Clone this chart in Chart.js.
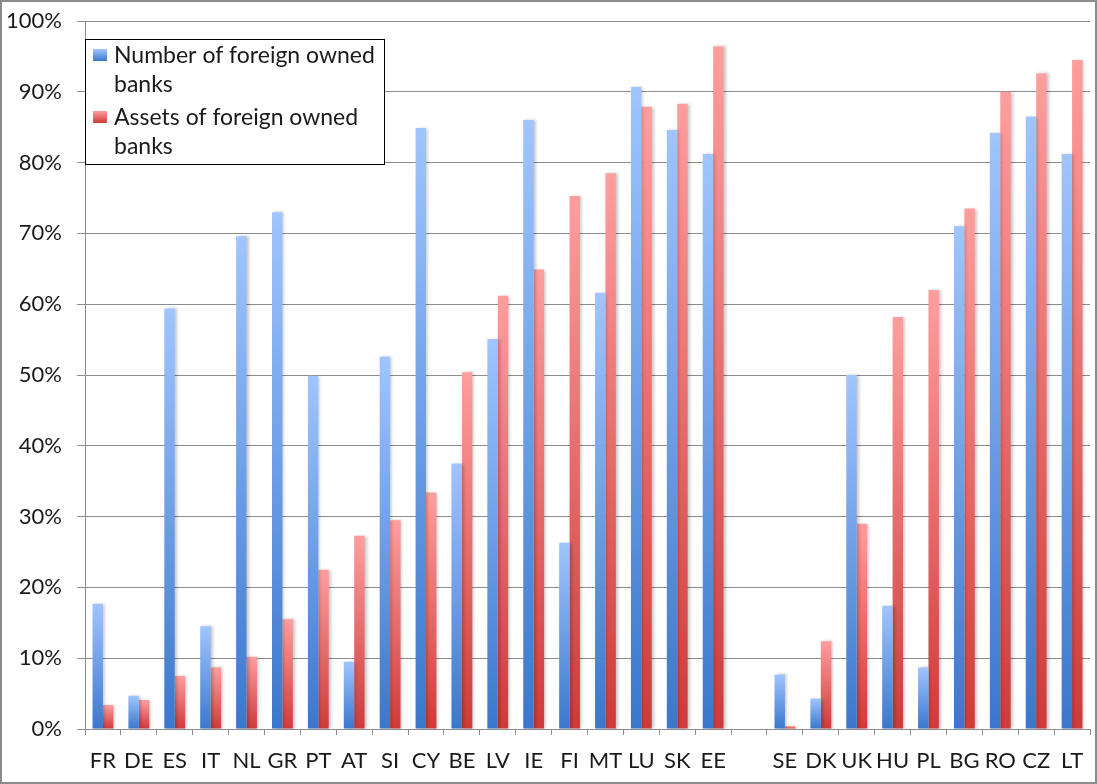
<!DOCTYPE html>
<html>
<head>
<meta charset="utf-8">
<script src="https://cdn.jsdelivr.net/npm/chart.js@4/dist/chart.umd.min.js"></script>
<style>
  body { margin: 0; background: #fff; }
  #wrap { position: relative; width: 1097px; height: 784px; }
  #frame { position: absolute; left: 0; top: 0; width: 1097px; height: 784px; box-sizing: border-box; border: 2px solid #8c8c8c; pointer-events: none; }
</style>
</head>
<body>
<div id="wrap">
  <canvas id="graficoBancos"></canvas>
  <div id="frame"></div>
</div>
<script>
// data (percent)
const paises = ["FR", "DE", "ES", "IT", "NL", "GR", "PT", "AT", "SI", "CY", "BE", "LV", "IE", "FI", "MT", "LU", "SK", "EE", "",
  "SE", "DK", "UK", "HU", "PL", "BG", "RO", "CZ", "LT"];
const numeroBancos = [17.7, 4.7, 59.4, 14.5, 69.6, 73.0, 49.9, 9.5, 52.6, 84.9, 37.5, 55.1, 86.0, 26.3, 61.6, 90.7, 84.6, 81.2, null,
  7.7, 4.3, 50.0, 17.4, 8.7, 71.0, 84.2, 86.5, 81.2];
const ativosBancos = [3.4, 4.1, 7.5, 8.7, 10.2, 15.5, 22.5, 27.3, 29.5, 33.4, 50.4, 61.2, 64.9, 75.3, 78.5, 87.9, 88.3, 96.4, null,
  0.4, 12.4, 29.0, 58.2, 62.0, 73.5, 90.0, 92.6, 94.5];
const rotulosY = ["0%", "10%", "20%", "30%", "40%", "50%", "60%", "70%", "80%", "90%", "100%"];

const fonte = "Lato, 'Liberation Sans', sans-serif";
const azul = { topo: "#a0c5ff", base: "#3a77cc" };
const vermelho = { topo: "#ff9e9e", base: "#cf3a3a" };

function gradienteBarra(cor) {
  return c => {
    const chart = c.chart;
    if (!chart.chartArea || c.raw == null) return cor.base;
    const y = chart.scales.y;
    const y0 = y.getPixelForValue(0);
    const y1 = y.getPixelForValue(c.raw);
    if (y0 - y1 < 1) return cor.topo;
    const g = chart.ctx.createLinearGradient(0, y1, 0, y0);
    g.addColorStop(0, cor.topo);
    g.addColorStop(1, cor.base);
    return g;
  };
}

// sombra leve nas barras
const sombra = {
  id: "sombra",
  beforeDatasetsDraw(chart) {
    const ctx = chart.ctx;
    ctx.save();
    ctx.shadowColor = "rgba(0,0,0,0.22)";
    ctx.shadowBlur = 3;
    ctx.shadowOffsetX = 2;
    ctx.shadowOffsetY = 0;
  },
  afterDatasetsDraw(chart) {
    chart.ctx.restore();
  }
};

// legenda em caixa, com quebra de linha
const legendaCaixa = {
  id: "legendaCaixa",
  afterDraw(chart) {
    const ctx = chart.ctx;
    const x = 85, y = 39, w = 299, h = 125;
    ctx.save();
    ctx.fillStyle = "#fff";
    ctx.fillRect(x, y, w, h);
    ctx.strokeStyle = "#000";
    ctx.lineWidth = 1;
    ctx.strokeRect(x + 0.5, y + 0.5, w, h);
    ctx.font = "23px " + fonte;
    ctx.fillStyle = "#1a1a1a";
    ctx.textBaseline = "alphabetic";
    const itens = [
      { linhas: ["Number of foreign owned", "banks"], cor: azul, y: 49 },
      { linhas: ["Assets of foreign owned", "banks"], cor: vermelho, y: 111 }
    ];
    itens.forEach(it => {
      const g = ctx.createLinearGradient(0, it.y, 0, it.y + 12);
      g.addColorStop(0, it.cor.topo);
      g.addColorStop(1, it.cor.base);
      ctx.fillStyle = g;
      ctx.fillRect(93, it.y, 14, 12);
      ctx.fillStyle = "#1a1a1a";
      it.linhas.forEach((t, i) => ctx.fillText(t, 114, it.y + 14 + i * 29));
    });
    ctx.restore();
  }
};

const ctxBancos = document.getElementById("graficoBancos").getContext("2d");
window.graficoBancos = new Chart(ctxBancos, {
  type: "bar",
  data: {
    labels: paises,
    datasets: [{
      label: "Number of foreign owned banks",
      data: numeroBancos,
      backgroundColor: gradienteBarra(azul),
      borderWidth: 0
    }, {
      label: "Assets of foreign owned banks",
      data: ativosBancos,
      backgroundColor: gradienteBarra(vermelho),
      borderWidth: 0
    }]
  },
  plugins: [sombra, legendaCaixa],
  options: {
    responsive: true,
    maintainAspectRatio: false,
    animation: false,
    categoryPercentage: 0.58,
    barPercentage: 1.0,
    layout: { padding: { left: 0, top: 21, right: 7, bottom: 0 } },
    plugins: {
      legend: { display: false },
      tooltip: { enabled: false }
    },
    scales: {
      x: {
        grid: { drawOnChartArea: false, drawTicks: true, tickLength: 6, color: "#8c8c8c", offset: true },
        border: { color: "#8c8c8c", width: 1 },
        ticks: { color: "#1a1a1a", font: { family: fonte, size: 22 }, padding: 13, maxRotation: 0, autoSkip: false },
        afterFit: s => { s.height = 55; }
      },
      y: {
        min: 0,
        max: 100,
        grid: { color: "#8c8c8c", lineWidth: 1, tickLength: 8 },
        border: { color: "#8c8c8c", width: 1 },
        ticks: {
          stepSize: 10,
          color: "#1a1a1a",
          font: { family: fonte, size: 22 },
          padding: 15,
          callback: v => rotulosY[Math.round(v / 10)]
        },
        afterFit: s => { s.width = 85; s.paddingTop = 0; s.paddingBottom = 0; }
      }
    }
  }
});
</script>
</body>
</html>
